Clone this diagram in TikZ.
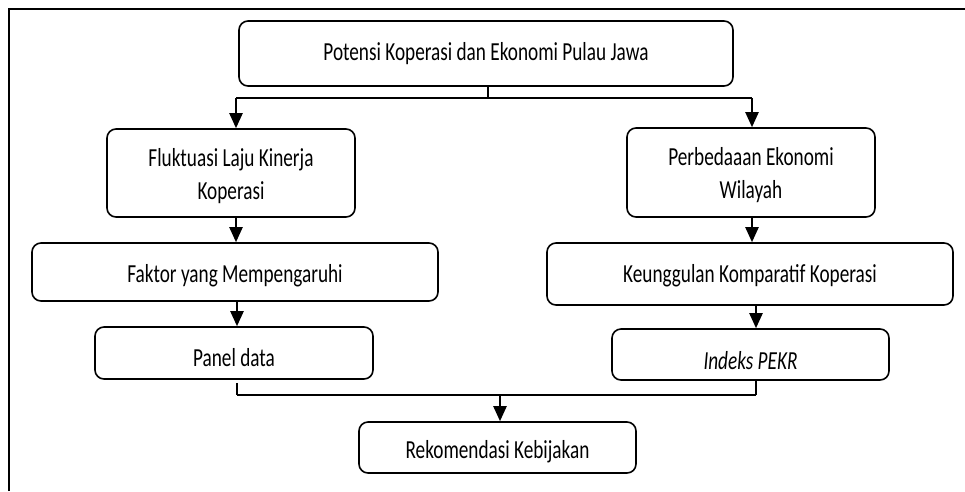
\documentclass[tikz,border=0pt]{standalone}
\usepackage{fontspec}
\setmainfont{Carlito}[FakeStretch=0.74]
\usetikzlibrary{arrows.meta}
\newcommand\dn[2]{\raisebox{-#1}[\height][\depth]{#2}}
\newcommand\twol[2]{\begin{tabular}{@{}c@{}}#1\\#2\end{tabular}}
\begin{document}
\begin{tikzpicture}[x=1pt,y=-1pt,
  box/.style={draw, line width=1.6pt, rounded corners=9pt, inner sep=0pt, align=center,
    font=\fontsize{26}{33}\selectfont},
  conn/.style={line width=2.2pt},
  arr/.style={line width=2.2pt, -{Triangle[width=13pt,length=15pt]}}]
\useasboundingbox (0,0) rectangle (965,491);
\draw[line width=1.6pt] (9,491) -- (9,9) -- (965,9);
% boxes
\node[box, minimum width=494pt, minimum height=65pt] (top) at (486,53.5) {Potensi Koperasi dan Ekonomi Pulau Jawa};
\node[box, minimum width=248pt, minimum height=88pt] (fluk) at (231,173) {\dn{3pt}{\twol{Fluktuasi Laju Kinerja}{Koperasi}}};
\node[box, minimum width=248pt, minimum height=89pt] (perb) at (751,172.5) {\dn{3pt}{\twol{Perbedaaan Ekonomi}{Wilayah}}};
\node[box, minimum width=406pt, minimum height=58pt] (faktor) at (235,272) {\dn{4pt}{Faktor yang Mempengaruhi}};
\node[box, minimum width=406pt, minimum height=62pt] (keung) at (750,274) {\dn{2pt}{Keunggulan Komparatif Koperasi}};
\node[box, minimum width=278pt, minimum height=52pt] (panel) at (234,353) {\dn{5pt}{Panel data}};
\node[box, minimum width=277pt, minimum height=51pt] (indeks) at (750.5,354.5) {\dn{6pt}{\itshape Indeks PEKR}};
\node[box, minimum width=277pt, minimum height=51pt] (rekom) at (497.5,447.5) {\dn{4pt}{Rekomendasi Kebijakan}};
% top split
\coordinate (jt) at (488,98);
\coordinate (jl) at (236,98);
\coordinate (jr) at (752,98);
\draw[conn] (top.south -| jt) -- (jt);
\draw[conn] (jl) -- (jr);
\draw[arr] (jl) -- (jl |- fluk.north);
\draw[arr] (jr) -- (jr |- perb.north);
% left column
\draw[arr] (jl |- fluk.south) -- (jl |- faktor.north);
\coordinate (cl) at (237,395);
\draw[arr] (cl |- faktor.south) -- (cl |- panel.north);
% right column
\coordinate (cr) at (756,395);
\draw[arr] (jr |- perb.south) -- (jr |- keung.north);
\draw[arr] (cr |- keung.south) -- (cr |- indeks.north);
% bottom merge
\coordinate (cb) at (500,395);
\draw[conn] (cl |- panel.south) ++(0,3) -- (cl);
\draw[conn] (cr |- indeks.south) -- (cr);
\draw[conn] (cl) -- (cr);
\draw[arr] (cb) -- (cb |- rekom.north);
\end{tikzpicture}
\end{document}
